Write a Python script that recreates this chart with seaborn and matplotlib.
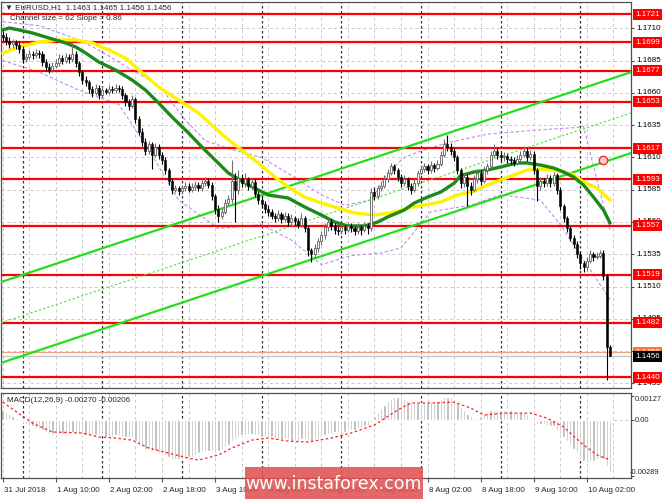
import numpy as np
import matplotlib
matplotlib.use("Agg")
import matplotlib.pyplot as plt
import seaborn as sns
from matplotlib.transforms import blended_transform_factory
from matplotlib.patches import Rectangle

sns.set_style("white")
plt.rcParams['font.family'] = ['Liberation Sans', 'DejaVu Sans']

# ---------------- data (EURUSD H1, 31 Jul 18:00 .. 10 Aug 09:00) ----------------
closes = [
 1.1703,1.1700,1.1698,1.1699,1.1697,1.1694,1.1686,1.1688,1.1690,1.1689,
 1.1691,1.1690,1.1684,1.1680,1.1678,1.1681,1.1683,1.1687,1.1685,1.1688,
 1.1686,1.1690,1.1683,1.1676,1.1670,1.1668,1.1663,1.1660,1.1664,1.1658,
 1.1662,1.1661,1.1663,1.1662,1.1664,1.1663,1.1658,1.1653,1.1650,1.1655,
 1.1640,1.1630,1.1622,1.1615,1.1620,1.1612,1.1618,1.1612,1.1608,1.1600,
 1.1592,1.1585,1.1586,1.1584,1.1586,1.1588,1.1585,1.1587,1.1589,1.1586,
 1.1590,1.1592,1.1589,1.1580,1.1570,1.1565,1.1568,1.1575,1.1578,1.1592,
 1.1585,1.1594,1.1590,1.1593,1.1588,1.1591,1.1582,1.1577,1.1574,1.1570,
 1.1568,1.1565,1.1563,1.1566,1.1562,1.1565,1.1560,1.1563,1.1561,1.1558,
 1.1563,1.1555,1.1538,1.1535,1.1540,1.1545,1.1550,1.1556,1.1560,1.1557,
 1.1554,1.1553,1.1556,1.1554,1.1557,1.1555,1.1553,1.1556,1.1554,1.1557,
 1.1555,1.1583,1.1580,1.1586,1.1588,1.1593,1.1598,1.1603,1.1600,1.1595,
 1.1590,1.1593,1.1588,1.1585,1.1590,1.1598,1.1601,1.1603,1.1600,1.1604,
 1.1602,1.1605,1.1612,1.1620,1.1618,1.1615,1.1610,1.1600,1.1590,1.1595,
 1.1588,1.1585,1.1593,1.1598,1.1592,1.1600,1.1603,1.1612,1.1615,1.1612,
 1.1610,1.1611,1.1609,1.1608,1.1606,1.1609,1.1612,1.1615,1.1610,1.1613,
 1.1600,1.1588,1.1592,1.1590,1.1594,1.1590,1.1596,1.1585,1.1572,1.1563,
 1.1555,1.1548,1.1543,1.1535,1.1528,1.1525,1.1530,1.1535,1.1533,1.1534,
 1.1536,1.1518,1.1463,1.1456]
highs = [
 1.1708,1.1706,1.1703,1.1702,1.1701,1.1700,1.1696,1.1691,1.1693,1.1692,
 1.1694,1.1693,1.1692,1.1686,1.1683,1.1684,1.1686,1.1690,1.1689,1.1691,
 1.1690,1.1699,1.1692,1.1685,1.1678,1.1673,1.1670,1.1665,1.1667,1.1666,
 1.1665,1.1664,1.1666,1.1665,1.1667,1.1666,1.1665,1.1660,1.1655,1.1658,
 1.1657,1.1642,1.1633,1.1625,1.1623,1.1622,1.1621,1.1620,1.1614,1.1610,
 1.1602,1.1594,1.1589,1.1588,1.1589,1.1591,1.1590,1.1590,1.1592,1.1591,
 1.1593,1.1595,1.1594,1.1591,1.1582,1.1573,1.1571,1.1578,1.1581,1.1608,
 1.1598,1.1600,1.1597,1.1598,1.1595,1.1594,1.1593,1.1584,1.1580,1.1576,
 1.1573,1.1570,1.1567,1.1569,1.1568,1.1568,1.1567,1.1566,1.1565,1.1563,
 1.1567,1.1565,1.1557,1.1540,1.1543,1.1548,1.1553,1.1559,1.1563,1.1562,
 1.1559,1.1557,1.1559,1.1558,1.1560,1.1559,1.1557,1.1559,1.1558,1.1560,
 1.1559,1.1586,1.1587,1.1589,1.1591,1.1596,1.1601,1.1606,1.1605,1.1602,
 1.1597,1.1596,1.1595,1.1590,1.1593,1.1600,1.1604,1.1606,1.1605,1.1607,
 1.1606,1.1608,1.1615,1.1624,1.1627,1.1621,1.1617,1.1612,1.1602,1.1598,
 1.1597,1.1591,1.1596,1.1601,1.1600,1.1603,1.1606,1.1615,1.1620,1.1617,
 1.1614,1.1614,1.1613,1.1611,1.1610,1.1612,1.1615,1.1619,1.1617,1.1616,
 1.1615,1.1602,1.1595,1.1594,1.1597,1.1596,1.1599,1.1598,1.1587,1.1574,
 1.1565,1.1557,1.1550,1.1545,1.1537,1.1530,1.1533,1.1538,1.1537,1.1537,
 1.1538,1.1538,1.1520,1.1465]
lows = [
 1.1700,1.1697,1.1695,1.1695,1.1694,1.1691,1.1683,1.1684,1.1686,1.1686,
 1.1687,1.1687,1.1681,1.1677,1.1675,1.1676,1.1679,1.1681,1.1682,1.1683,
 1.1683,1.1684,1.1680,1.1673,1.1667,1.1665,1.1660,1.1657,1.1658,1.1655,
 1.1656,1.1659,1.1659,1.1660,1.1660,1.1661,1.1655,1.1650,1.1647,1.1648,
 1.1637,1.1627,1.1619,1.1612,1.1613,1.1601,1.1610,1.1609,1.1605,1.1597,
 1.1589,1.1582,1.1583,1.1581,1.1582,1.1584,1.1583,1.1583,1.1585,1.1584,
 1.1584,1.1588,1.1586,1.1577,1.1566,1.1560,1.1562,1.1566,1.1572,1.1575,
 1.1560,1.1582,1.1587,1.1587,1.1585,1.1585,1.1579,1.1574,1.1571,1.1567,
 1.1565,1.1562,1.1560,1.1561,1.1559,1.1560,1.1557,1.1558,1.1558,1.1555,
 1.1556,1.1552,1.1534,1.1529,1.1532,1.1537,1.1542,1.1547,1.1553,1.1554,
 1.1551,1.1550,1.1551,1.1551,1.1552,1.1552,1.1550,1.1551,1.1550,1.1552,
 1.1551,1.1553,1.1577,1.1578,1.1584,1.1586,1.1591,1.1596,1.1597,1.1592,
 1.1587,1.1588,1.1585,1.1582,1.1583,1.1588,1.1596,1.1599,1.1597,1.1598,
 1.1599,1.1600,1.1603,1.1610,1.1615,1.1612,1.1607,1.1597,1.1586,1.1587,
 1.1572,1.1581,1.1583,1.1590,1.1589,1.1590,1.1597,1.1601,1.1610,1.1609,
 1.1607,1.1607,1.1606,1.1605,1.1603,1.1604,1.1607,1.1610,1.1607,1.1608,
 1.1597,1.1576,1.1585,1.1587,1.1588,1.1587,1.1588,1.1582,1.1569,1.1560,
 1.1552,1.1545,1.1540,1.1532,1.1524,1.1521,1.1522,1.1528,1.1530,1.1531,
 1.1532,1.1515,1.1438,1.1456]
first_open = 1.1705
opens = [first_open] + closes[:-1]

macd_hist = (
 [0.0005,0.0004,0.0003,0.0002,0.0001,0.0000]
 + [-0.0001,-0.0002,-0.0003,-0.0003,-0.0004,-0.0004,-0.0005,-0.0006,-0.0007,-0.0007]
 + [-0.0007,-0.0007,-0.0007,-0.0007,-0.0007,-0.0006,-0.0007,-0.0007,-0.0008,-0.0008,-0.0008,-0.0008,-0.0008,-0.0008]
 + [-0.0008,-0.0009,-0.0009,-0.0009,-0.0008,-0.0008,-0.0009,-0.0009,-0.0009,-0.0009]
 + [-0.0011,-0.0013,-0.0014,-0.0015,-0.0015,-0.0016,-0.0016]
 + [-0.0017,-0.0017,-0.0018,-0.0019,-0.0020,-0.0020,-0.0020,-0.0020,-0.0020]
 + [-0.0019,-0.0019,-0.0018,-0.0017,-0.0016,-0.0016]
 + [-0.0016,-0.0016,-0.0017,-0.0016,-0.0015,-0.0014,-0.0013,-0.0011]
 + [-0.0010,-0.0009,-0.0008,-0.0008,-0.0007,-0.0007]
 + [-0.0008,-0.0008,-0.0009,-0.0009,-0.0009,-0.0009]
 + [-0.0010,-0.0010,-0.0010,-0.0010,-0.0010,-0.0011,-0.0011,-0.0011,-0.0010,-0.0010,-0.0011,-0.0011,-0.0010]
 + [-0.0010,-0.0009,-0.0008,-0.0007,-0.0007,-0.0006]
 + [-0.0006,-0.0006,-0.0006,-0.0005,-0.0005,-0.0005,-0.0004,-0.0004,-0.0003,-0.0003]
 + [-0.0001,0.0002,0.0004,0.0006]
 + [0.0008,0.0010,0.0011,0.0012,0.0012,0.0012,0.0011]
 + [0.0010,0.0010,0.0009,0.0009,0.0009,0.0009,0.0009,0.0010,0.0010,0.0010,0.0011]
 + [0.0012,0.0012,0.0012,0.0011,0.0009,0.0007]
 + [0.0005,0.0003,0.0002,0.0001,0.0001,0.0002,0.0003]
 + [0.0004,0.0005,0.0005,0.0005,0.0005,0.0005,0.0005,0.0005,0.0004,0.0004,0.0004,0.0004,0.0003]
 + [0.0000,-0.0001,-0.0002,-0.0002,-0.0002,-0.0003,-0.0003,-0.0003]
 + [-0.0005,-0.0007,-0.0009,-0.0011,-0.0013,-0.0015,-0.0017,-0.0019,-0.0021]
 + [-0.0022,-0.0021,-0.0021,-0.0020,-0.0020,-0.0020]
 + [-0.0024,-0.0027])

signal_idx = [0,9,15,24,29,34,39,44,50,56,59,65,69,75,80,86,92,99,105,112,119,123,129,136,141,145,151,159,164,169,175,179,183]
signal_val = [0.00093,-0.00016,-0.00062,-0.00067,-0.00088,-0.00093,-0.00104,-0.00145,-0.00171,-0.00197,
              -0.00207,-0.00181,-0.00145,-0.00104,-0.00093,-0.00109,-0.00114,-0.00093,-0.00067,-0.00026,
              0.00052,0.00088,0.00088,0.00093,0.00062,0.00026,0.00036,0.00036,0.00010,-0.00036,
              -0.00129,-0.00180,-0.00206]

ma_fast_idx = [0,2,5,9,14,19,22,25,29,34,39,43,47,51,56,60,64,68,73,77,80,86,91,96,100,104,109,113,116,121,124,128,132,136,138,142,146,150,155,158,162,166,169,172,175,178,181,183]
ma_fast = [1.17086,1.17102,1.17086,1.17063,1.17024,1.16986,1.16955,1.16908,1.16838,1.16777,
           1.16699,1.16622,1.16521,1.16413,1.16289,1.16181,1.16080,1.15979,1.15902,1.15848,
           1.15809,1.15786,1.15716,1.15654,1.15600,1.15569,1.15569,1.15600,1.15639,1.15693,
           1.15747,1.15793,1.15832,1.15900,1.15960,1.15987,1.16002,1.16026,1.16057,1.16057,
           1.16041,1.16018,1.15987,1.15948,1.15886,1.15793,1.15693,1.15592]

ma_slow_idx = [0,5,11,17,22,27,32,37,41,47,53,59,67,72,77,82,86,91,96,101,106,112,117,122,127,132,137,142,146,150,154,158,162,166,169,172,175,179,183]
ma_slow = [1.16908,1.16955,1.16993,1.17009,1.17009,1.16986,1.16931,1.16869,1.16777,1.16645,
           1.16544,1.16444,1.16258,1.16157,1.16057,1.15948,1.15871,1.15793,1.15747,1.15708,
           1.15670,1.15654,1.15670,1.15708,1.15732,1.15755,1.15809,1.15840,1.15886,1.15925,
           1.15964,1.16002,1.16010,1.16002,1.15987,1.15964,1.15910,1.15863,1.15770]

band_up_idx = [0,11,23,29,38,47,55,61,69,78,87,96,103,111,116,121,126,135,146,160,172,175,179,183]
band_up = [1.1715,1.1712,1.1701,1.1693,1.1679,1.1666,1.1639,1.1623,1.1616,1.1610,1.1596,1.1581,
           1.1573,1.1577,1.1598,1.1610,1.1615,1.1622,1.1628,1.1631,1.1633,1.1634,1.1593,1.1554]
band_lo_idx = [0,11,23,35,44,53,65,78,87,96,105,114,120,129,141,150,162,168,177,183]
band_lo = [1.1685,1.1676,1.1662,1.1651,1.1616,1.1577,1.1555,1.1558,1.1546,1.1527,1.1534,1.1536,
           1.1540,1.1568,1.1573,1.1581,1.1577,1.1558,1.1523,1.1500]

levels = [1.1721, 1.1699, 1.1677, 1.1653, 1.1617, 1.1593, 1.1557, 1.1519, 1.1482, 1.1440]
price_ticks = [1.1710, 1.1685, 1.1660, 1.1635, 1.1610, 1.1585, 1.1560, 1.1535, 1.1510, 1.1485, 1.1460, 1.1435]
channel_x = [-0.5, 189.3]
channel_upper = [1.15135, 1.16760]
channel_mid = [1.14819, 1.16444]
channel_lower = [1.14509, 1.16134]
alert_idx, alert_price = 181, 1.1608
bid_price, ask_price = 1.1456, 1.1459
time_labels = ["31 Jul 2018", "1 Aug 10:00", "2 Aug 02:00", "2 Aug 18:00", "3 Aug 10:00",
               "6 Aug 02:00", "6 Aug 18:00", "7 Aug 10:00", "8 Aug 02:00", "8 Aug 18:00",
               "9 Aug 10:00", "10 Aug 02:00"]
time_label_idx = [0, 16, 32, 48, 64, 80, 96, 112, 128, 144, 160, 176]
day_sep_idx = [6, 30, 54, 78, 102, 126, 150, 174]
macd_top, macd_bottom = 0.00127, -0.00289
header = "\u25bc EURUSD,H1  1.1463 1.1465 1.1456 1.1456"
channel_text = "Channel size = 62 Slope = 0.86"
macd_text = "MACD(12,26,9) -0.00270 -0.00206"

# ---------------- figure ----------------
W, H = 665, 499
fig = plt.figure(figsize=(W / 100, H / 100), dpi=100)
fig.patch.set_facecolor("white")
ax = fig.add_axes([1 / W, 1 - 388 / H, 630 / W, 386 / H])
axm = fig.add_axes([1 / W, 1 - 478 / H, 630 / W, 85 / H], sharex=ax)

n = len(closes)
idx = np.arange(n)
ax.set_xlim(-0.5, 189.3)
ax.set_ylim(1.14315, 1.17303)
axm.set_ylim(-0.00300, 0.00140)

grid_kw = dict(color="#C8C8C8", lw=0.7, ls=(0, (3, 3)), zorder=0)
sep_kw = dict(color="#303030", lw=0.9, ls=(0, (2, 2)), zorder=0.5)
for a in (ax, axm):
    for g in range(0, 190, 8):
        a.axvline(g, **grid_kw)
    for s in day_sep_idx:
        a.axvline(s, **sep_kw)
for p in price_ticks:
    ax.axhline(p, **grid_kw)
axm.axhline(0, **grid_kw)

# current price lines
ax.axhline(ask_price, color="#F4A080", lw=0.8, zorder=1)
ax.axhline(bid_price, color="#C8C8C8", lw=1.0, zorder=1)

# Bollinger-like dashed bands
sns.lineplot(x=band_up_idx, y=band_up, ax=ax, color="#C58BEF", lw=0.8, linestyle=(0, (3, 2)), zorder=2)
sns.lineplot(x=band_lo_idx, y=band_lo, ax=ax, color="#C58BEF", lw=0.8, linestyle=(0, (3, 2)), zorder=2)

# support / resistance levels
for lv in levels:
    ax.axhline(lv, color="#FF0000", lw=1.6, zorder=3)

# channel
sns.lineplot(x=channel_x, y=channel_upper, ax=ax, color="#22E01E", lw=1.6, zorder=3)
sns.lineplot(x=channel_x, y=channel_lower, ax=ax, color="#22E01E", lw=1.6, zorder=3)
sns.lineplot(x=channel_x, y=channel_mid, ax=ax, color="#44E040", lw=0.8, linestyle=(0, (2, 2)), zorder=3)

# moving averages
sns.lineplot(x=ma_slow_idx, y=ma_slow, ax=ax, color="#FFF200", lw=2.4, zorder=4)
sns.lineplot(x=ma_fast_idx, y=ma_fast, ax=ax, color="#1B8A1B", lw=2.4, zorder=4)

# candles
o = np.array(opens); c = np.array(closes); h = np.array(highs); l = np.array(lows)
bull = c >= o
ax.vlines(idx[bull], l[bull], h[bull], color="#707070", lw=0.8, zorder=5)
ax.vlines(idx[~bull], l[~bull], h[~bull], color="#000000", lw=0.8, zorder=5)
body = np.where(np.abs(c - o) < 0.00005, 0.00005, c - o)
ax.bar(idx[bull], body[bull], bottom=o[bull], width=0.62, color="white", edgecolor="#606060", lw=0.6, zorder=6)
ax.bar(idx[~bull], body[~bull], bottom=o[~bull], width=0.62, color="black", edgecolor="black", lw=0.4, zorder=6)

# alert marker
ax.plot([alert_idx], [alert_price], marker="o", ms=6, mfc="#FFD0D0", mec="#FF2020", mew=1.0, zorder=7)

# MACD
axm.bar(idx, macd_hist, width=0.7, color="#B4B4B4", zorder=2)
sns.lineplot(x=signal_idx, y=signal_val, ax=axm, color="#FF2020", lw=0.9, linestyle=(0, (2, 2)), zorder=3)

# axes styling
for a in (ax, axm):
    a.set_xlabel(""); a.set_ylabel("")
    for sp in a.spines.values():
        sp.set_color("#505050"); sp.set_linewidth(0.9)
    a.tick_params(axis="y", which="both", left=False, labelleft=False, right=True, labelright=False,
                  length=2.5, color="#505050", direction="out")
ax.tick_params(axis="x", bottom=False, labelbottom=False)
ax.set_yticks(price_ticks)
axm.set_yticks([macd_top, 0, macd_bottom])
axm.set_xticks(time_label_idx)
axm.tick_params(axis="x", bottom=True, length=3, color="#505050", labelbottom=False)

fs = 5.8
tr = blended_transform_factory(ax.transAxes, ax.transData)
for p in price_ticks:
    ax.text(1.008, p, f"{p:.4f}", transform=tr, ha="left", va="center", fontsize=fs,
            color="black", clip_on=False, zorder=8)
box = dict(boxstyle="square,pad=0.25", ec="none")
for lv in levels:
    ax.text(1.007, lv, f"{lv:.4f}", transform=tr, ha="left", va="center", fontsize=fs,
            color="white", clip_on=False, zorder=9, bbox=dict(box, fc="#FF0000"))
ax.text(1.007, ask_price, f"{ask_price:.4f}", transform=tr, ha="left", va="center", fontsize=fs,
        color="white", clip_on=False, zorder=9, bbox=dict(box, fc="#FF7733"))
ax.text(1.007, bid_price, f"{bid_price:.4f}", transform=tr, ha="left", va="center", fontsize=fs,
        color="white", clip_on=False, zorder=10, bbox=dict(box, fc="#000000"))

trm = blended_transform_factory(axm.transAxes, axm.transData)
axm.text(1.006, macd_top, f"{macd_top:.5f}", transform=trm, ha="left", va="top", fontsize=5.4, clip_on=False)
axm.text(1.006, 0, "0.00", transform=trm, ha="left", va="center", fontsize=5.4, clip_on=False)
axm.text(0.9985, macd_bottom, f"{macd_bottom:.5f}", transform=trm, ha="left", va="bottom", fontsize=5.4, clip_on=False)

for ti, lab in zip(time_label_idx, time_labels):
    axm.text(ti + 0.3, -0.10, lab, transform=blended_transform_factory(axm.transData, axm.transAxes),
             ha="left", va="top", fontsize=fs, clip_on=False)

ax.text(4 / 630, 1 - 6 / 386, header, transform=ax.transAxes, ha="left", va="center", fontsize=fs, zorder=10)
ax.text(9 / 630, 1 - 17 / 386, channel_text, transform=ax.transAxes, ha="left", va="center", fontsize=fs, zorder=10)
axm.text(6 / 630, 1 - 8 / 85, macd_text, transform=axm.transAxes, ha="left", va="center", fontsize=fs, zorder=10)

# watermark
fig.patches.append(Rectangle((245 / W, 0), 178 / W, 32 / H, transform=fig.transFigure,
                             fc="#E05252", ec="none", alpha=0.88, zorder=20))
fig.text(334 / W, 15 / H, "www.instaforex.com", ha="center", va="center", color="white",
         fontsize=12.5, zorder=21, family=["DejaVu Sans"])

fig.savefig("out.png", dpi=100, facecolor="white")
